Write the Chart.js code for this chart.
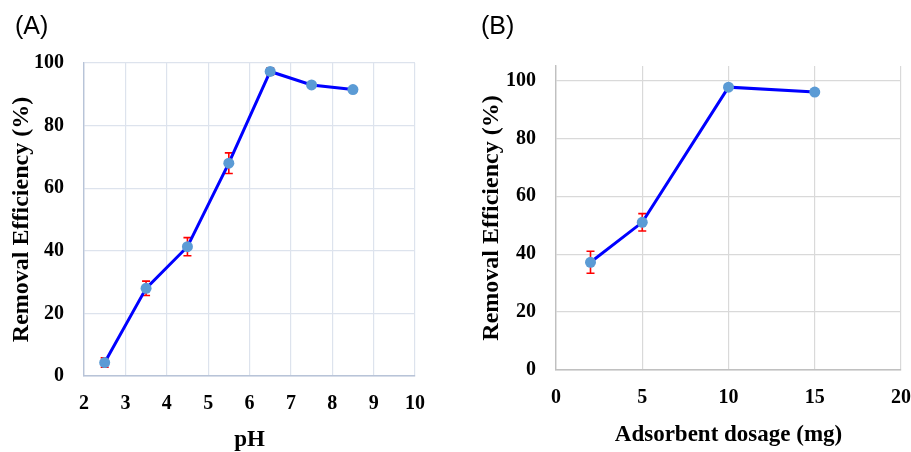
<!DOCTYPE html>
<html>
<head>
<meta charset="utf-8">
<script src="https://cdn.jsdelivr.net/npm/chart.js@4/dist/chart.umd.min.js"></script>
<style>
  html, body { margin: 0; padding: 0; background: #fff; }
  #wrap { position: relative; width: 911px; height: 452px; overflow: hidden; }
  canvas { position: absolute; top: 0; }
  #chartA { left: 0; }
  #chartB { left: 460px; }
  .tag { position: absolute; top: 11px; font: 25px "Liberation Sans", Arial, sans-serif; color: #000; }
</style>
</head>
<body>
<div id="wrap">
  <canvas id="chartA" width="455" height="452"></canvas>
  <canvas id="chartB" width="470" height="452"></canvas>
  <div class="tag" style="left:15px">(A)</div>
  <div class="tag" style="left:481px">(B)</div>
</div>
<script>
// panel A — pH
const phValues   = [2.5, 3.5, 4.5, 5.5, 6.5, 7.5, 8.5];
const phRemoval  = [4.3, 28.0, 41.3, 68.0, 97.3, 93.0, 91.5];
const phError    = [1.5, 2.3, 2.9, 3.3, 1.1, 0.7, 0.8];

// panel B — adsorbent dosage
const doseValues  = [2, 5, 10, 15];
const doseRemoval = [37.2, 51.0, 97.7, 96.0];
const doseError   = [3.8, 3.0, 0.6, 0.4];

const SERIF = "'Liberation Serif', 'Times New Roman', serif";

// error bars drawn with the chart's own scales
const errorBars = {
  id: 'errorBars',
  beforeDatasetsDraw(chart, args, opts) {
    const { ctx, scales: { x, y } } = chart;
    const ds = chart.data.datasets[0];
    ctx.save();
    ctx.strokeStyle = '#ff0000';
    ctx.lineWidth = 1.6;
    ds.data.forEach((p, i) => {
      const e = opts.errors[i];
      const px = x.getPixelForValue(p.x);
      const top = y.getPixelForValue(p.y + e);
      const bot = y.getPixelForValue(p.y - e);
      ctx.beginPath();
      ctx.moveTo(px, top); ctx.lineTo(px, bot);
      ctx.moveTo(px - 4, top); ctx.lineTo(px + 4, top);
      ctx.moveTo(px - 4, bot); ctx.lineTo(px + 4, bot);
      ctx.stroke();
    });
    ctx.restore();
  }
};

function makeChart(id, xs, ys, errs, cfg) {
  const pts = xs.map((v, i) => ({ x: v, y: ys[i] }));
  return new Chart(document.getElementById(id), {
    type: 'scatter',
    data: {
      datasets: [{
        data: pts,
        showLine: true,
        borderColor: '#0000ff',
        borderWidth: 3,
        pointRadius: 5.5,
        pointBackgroundColor: '#5b9bd5',
        pointBorderColor: '#5b9bd5',
        pointBorderWidth: 0,
        tension: 0
      }]
    },
    options: {
      responsive: false,
      animation: false,
      devicePixelRatio: 1,
      layout: { padding: { top: cfg.top, right: cfg.right, left: 0, bottom: 0 } },
      plugins: {
        legend: { display: false },
        tooltip: { enabled: false },
        errorBars: { errors: errs }
      },
      scales: {
        x: {
          type: 'linear',
          min: cfg.xMin, max: cfg.xMax,
          afterFit: s => { s.height = cfg.xH; },
          grid: { color: cfg.grid, lineWidth: 1.2, drawTicks: false },
          border: { color: cfg.axis, width: 1.4 },
          ticks: { stepSize: cfg.xStep, padding: 16, color: '#000',
                   font: { family: SERIF, size: 20, weight: 'bold' } },
          title: { display: true, text: cfg.xTitle, color: '#000',
                   padding: { top: 0, bottom: cfg.xTitlePad },
                   font: { family: SERIF, size: 23, weight: 'bold', lineHeight: 1 } }
        },
        y: {
          min: 0, max: cfg.yMax,
          afterFit: s => { s.width = cfg.yW; },
          grid: { color: cfg.grid, lineWidth: 1.2, drawTicks: false },
          border: { color: cfg.axis, width: 1.4 },
          ticks: { stepSize: 20, includeBounds: false, padding: 20, color: '#000',
                   font: { family: SERIF, size: 20, weight: 'bold' } },
          title: { display: true, text: 'Removal Efficiency (%)', color: '#000',
                   padding: { top: cfg.yTitlePad, bottom: 0 },
                   font: { family: SERIF, size: 24, weight: 'bold', lineHeight: 1.2 } }
        }
      }
    },
    plugins: [errorBars]
  });
}

makeChart('chartA', phValues, phRemoval, phError, {
  top: 63, right: 40, xH: 76, yW: 84, yTitlePad: 7.5, xTitlePad: 0,
  xMin: 2, xMax: 10, xStep: 1, yMax: 100,
  xTitle: 'pH', grid: '#dde3ed', axis: '#b8c4d8'
});

makeChart('chartB', doseValues, doseRemoval, doseError, {
  top: 66, right: 29, xH: 82, yW: 96, yTitlePad: 17.5, xTitlePad: 5.5,
  xMin: 0, xMax: 20, xStep: 5, yMax: 105,
  xTitle: 'Adsorbent dosage (mg)', grid: '#d9d9d9', axis: '#c0c0c0'
});
</script>
</body>
</html>
